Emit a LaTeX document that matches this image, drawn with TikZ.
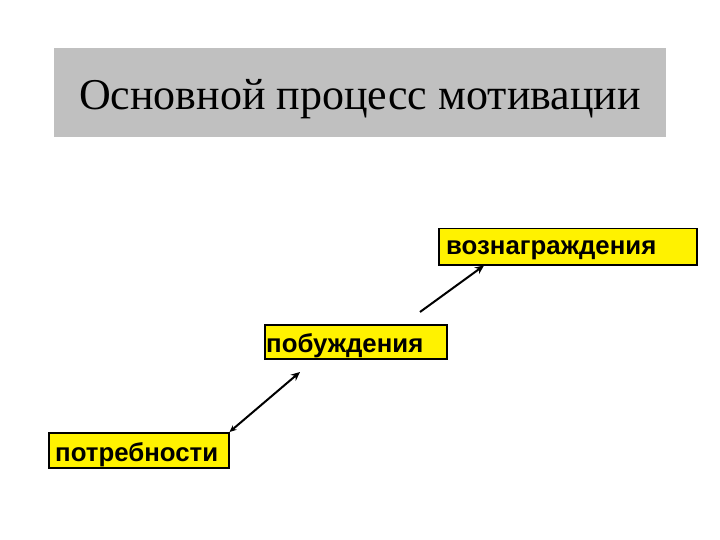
\documentclass[tikz,border=0pt]{standalone}
\usepackage{fontspec}
\setmainfont{Liberation Serif}
\newfontfamily\boxfont{Liberation Sans}
\usetikzlibrary{arrows.meta}
\begin{document}
\begin{tikzpicture}[x=1pt,y=-1pt,
  ybox/.style={draw=black,line width=1.5pt,fill=yellow,anchor=north west,inner sep=0pt},
  btext/.style={font=\boxfont\bfseries\fontsize{25.8}{28}\selectfont,anchor=west,inner sep=0pt},
  conn/.style={line width=2pt,-{Stealth[length=9pt,width=8pt]}}]
\useasboundingbox (0,0) rectangle (720,540);
\node[fill={rgb,255:red,192;green,192;blue,192},minimum width=612pt,minimum height=89pt,anchor=north west,inner sep=0pt] (title) at (54,48) {};
\node[font=\fontsize{44}{50}\selectfont,inner sep=0pt] (ttext) at (360,99) {Основной процесс мотивации};
\node[ybox,minimum width=258pt,minimum height=36pt] (voz) at (438,228) {};
\node[btext] (vozt) at (446,250) {вознаграждения};
\node[ybox,minimum width=182pt,minimum height=34pt] (pob) at (264,324) {};
\node[btext] (pobt) at (266,346) {побуждения};
\node[ybox,minimum width=180pt,minimum height=35pt] (pot) at (48,432) {};
\node[btext] (pott) at (55,455) {потребности};
\coordinate (a1) at (300,372);
\coordinate (a2) at (420,312);
\draw[conn,{Stealth[length=7pt,width=6pt]}-{Stealth[length=9pt,width=8pt]}] (pot.north east) -- (a1);
\draw[conn] (a2) -- ([xshift=46pt]voz.south west);
\end{tikzpicture}
\end{document}
